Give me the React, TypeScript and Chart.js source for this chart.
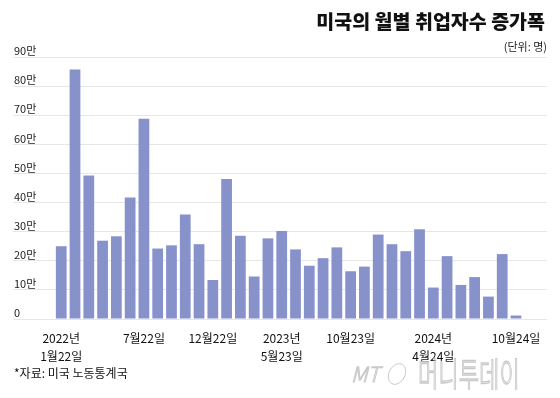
import { useEffect, useRef } from 'react';
import { Chart, registerables } from 'chart.js';

Chart.register(...registerables);

// Monthly change in US nonfarm employment (people)
const months = [
  '2022-01', '2022-02', '2022-03', '2022-04', '2022-05', '2022-06', '2022-07', '2022-08', '2022-09', '2022-10', '2022-11', '2022-12',
  '2023-01', '2023-02', '2023-03', '2023-04', '2023-05', '2023-06', '2023-07', '2023-08', '2023-09', '2023-10', '2023-11', '2023-12',
  '2024-01', '2024-02', '2024-03', '2024-04', '2024-05', '2024-06', '2024-07', '2024-08', '2024-09', '2024-10',
];
const jobGains = [
  250000, 857000, 493000, 269000, 284000, 417000, 688000, 242000, 253000, 359000, 257000, 134000,
  481000, 286000, 146000, 277000, 302000, 239000, 183000, 209000, 246000, 164000, 180000, 290000,
  257000, 233000, 308000, 108000, 216000, 117000, 144000, 77000, 223000, 12000,
];
const tickMonths = ['2022-01', '2022-07', '2022-12', '2023-05', '2023-10', '2024-04', '2024-10'];
const tickLabels = [
  ['2022년', '1월22일'], ['7월22일'], ['12월22일'], ['2023년', '5월23일'], ['10월23일'], ['2024년', '4월24일'], ['10월24일'],
];
const yMax = 900000;
const yStep = 100000;
const titleText = '미국의 월별 취업자수 증가폭';
const unitText = '(단위: 명)';
const sourceText = '*자료: 미국 노동통계국';

const FONT = "'Noto Sans CJK KR', 'Noto Sans', sans-serif";

const decorPlugin = {
  id: 'decor',
  afterDraw(chart: any) {
    const ctx = chart.ctx as CanvasRenderingContext2D;
    const w = chart.width;
    ctx.save();
    ctx.fillStyle = '#111';
    ctx.textBaseline = 'middle';
    ctx.textAlign = 'right';
    ctx.font = `900 19.5px ${FONT}`;
    ctx.fillText(titleText, w - 7, 13.5);
    ctx.font = `11px ${FONT}`;
    ctx.fillStyle = '#222';
    ctx.fillText(unitText, w - 5, 38.5);
    ctx.textAlign = 'left';
    ctx.font = `12px ${FONT}`;
    ctx.fillStyle = '#111';
    ctx.fillText(sourceText, 6, 365.5);

    // watermark
    ctx.strokeStyle = '#c9c9c9';
    ctx.lineWidth = 1;
    ctx.font = `italic 300 21px ${FONT}`;
    ctx.textAlign = 'left';
    ctx.strokeText('MT', 343, 366);
    ctx.beginPath();
    ctx.ellipse(389, 366, 8, 11, 0.5, 0, Math.PI * 2);
    ctx.stroke();
    ctx.save();
    ctx.translate(410, 367);
    ctx.scale(0.82, 1.35);
    ctx.font = `200 27px ${FONT}`;
    ctx.strokeText('머니투데이', 0, 0);
    ctx.restore();
    ctx.restore();
  },
};

export default function App() {
  const ref = useRef<HTMLCanvasElement | null>(null);

  useEffect(() => {
    if (!ref.current) return;
    const chart = new Chart(ref.current, {
      type: 'bar',
      data: {
        datasets: [
          {
            label: '취업자수 증가폭',
            data: jobGains.map((v, i) => ({ x: i, y: v })),
            backgroundColor: '#8792cb',
            borderWidth: 0,
            barPercentage: 0.78,
            categoryPercentage: 1,
          },
        ],
      },
      options: {
        animation: false,
        responsive: true,
        maintainAspectRatio: false,
        devicePixelRatio: 1,
        layout: { padding: { top: 49, left: 3, right: 5, bottom: 23 } },
        plugins: { legend: { display: false }, tooltip: { enabled: false }, title: { display: false } },
        scales: {
          x: {
            type: 'linear',
            min: -3.5,
            max: 35.25,
            offset: false,
            grid: { display: false, offset: false },
            border: { display: false },
            afterBuildTicks: (scale: any) => {
              scale.ticks = tickMonths.map((m) => ({ value: months.indexOf(m) }));
            },
            ticks: {
              autoSkip: false,
              maxRotation: 0,
              padding: 2,
              color: '#111',
              font: { family: FONT, size: 12, lineHeight: 1.5 },
              callback: (value: any) => {
                const idx = tickMonths.indexOf(months[Number(value)]);
                return idx >= 0 ? tickLabels[idx] : '';
              },
            },
          },
          y: {
            min: 0,
            max: yMax,
            grid: { color: '#e6e6e6', lineWidth: 1, drawTicks: false },
            border: { display: false },
            ticks: {
              stepSize: yStep,
              mirror: true,
              padding: 1,
              labelOffset: -6,
              color: '#222',
              font: { family: FONT, size: 11 },
              callback: (value: any) => (Number(value) === 0 ? '0' : `${Number(value) / 10000}만`),
            },
          },
        },
      },
      plugins: [decorPlugin],
    });
    return () => chart.destroy();
  }, []);

  return (
    <div style={{ width: 544, height: 382, position: 'relative' }}>
      <canvas ref={ref} />
    </div>
  );
}
